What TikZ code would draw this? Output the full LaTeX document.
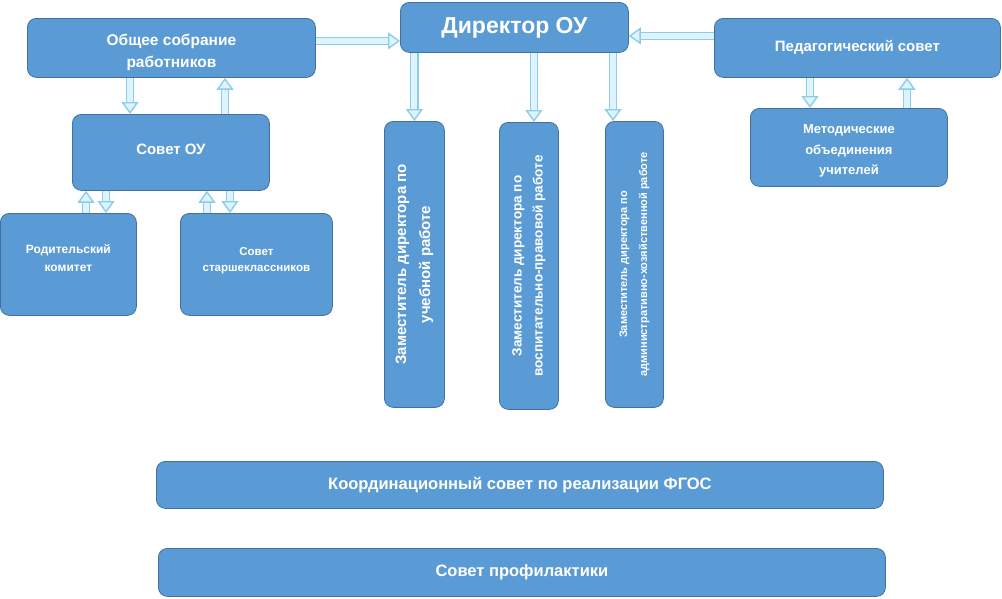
\documentclass[tikz,border=0pt]{standalone}
\usepackage{fontspec}
\setmainfont{Liberation Sans}
\usetikzlibrary{arrows.meta}
\definecolor{kasten}{RGB}{91,155,213}
\definecolor{rand}{RGB}{65,113,156}
\definecolor{pfeil}{RGB}{140,205,232}
\definecolor{pfeilhell}{RGB}{222,243,251}
\newcommand{\schrift}[2]{\bfseries\fontsize{#1}{#2}\selectfont}
\begin{document}
\begin{tikzpicture}[x=1pt,y=-1pt,
		box/.style={draw=rand,line width=0.8,fill=kasten,rounded corners=9,anchor=north west,inner sep=0,text=white,align=center},
		flow/.style={draw=pfeil,line width=1.4,double=pfeilhell,double distance=6,-{Triangle[width=17,length=12,fill=pfeilhell]}}]
	\useasboundingbox[fill=white] (0,0) rectangle (1002,598);
	% obere Reihe
	\node[box,minimum width=288,minimum height=59,font=\schrift{15.5}{22}] (obshee) at (27,18) {\rule{0pt}{20pt}Общее собрание\\работников};
	\node[box,minimum width=228,minimum height=50,font=\schrift{23}{26}] (direktor) at (400,2) {Директор ОУ};
	\node[box,minimum width=286,minimum height=59,font=\schrift{15}{18}] (pedsovet) at (714,18) {Педагогический совет};
	% linke Seite
	\node[box,minimum width=197,minimum height=76,font=\schrift{15}{18}] (sovet) at (72,114) {Совет ОУ\rule[-6pt]{0pt}{0pt}};
	\node[box,minimum width=136,minimum height=102,font=\schrift{12}{18}] (roditeli) at (0,213) {Родительский\\комитет\\[-5pt]};
	\node[box,minimum width=152,minimum height=102,font=\schrift{11.5}{16}] (starsh) at (180,213) {Совет\\старшеклассников\\[-6pt]};
	% rechte Seite
	\node[box,minimum width=197,minimum height=78,font=\schrift{13}{20.5}] (metod) at (750,108) {\rule{0pt}{16pt}Методические\\объединения\\учителей};
	% Stellvertreter
	\node[box,minimum width=60,minimum height=286] (zam1) at (384,121) {};
	\node[rotate=90,text=white,align=center,font=\schrift{15}{24}] at (zam1.center) {Заместитель директора по\\учебной работе};
	\node[box,minimum width=59,minimum height=287] (zam2) at (499,122) {};
	\node[rotate=90,text=white,align=center,font=\schrift{13.5}{21}] at (zam2.center) {Заместитель директора по\\воспитательно-правовой работе};
	\node[box,minimum width=58,minimum height=286] (zam3) at (605,121) {};
	\node[rotate=90,text=white,align=center,font=\schrift{11}{20}] at (zam3.center) {Заместитель директора по\\административно-хозяйственной работе};
	% untere Balken
	\node[box,minimum width=727,minimum height=47,font=\schrift{16.5}{20}] (koord) at (156,461) {Координационный совет по реализации ФГОС};
	\node[box,minimum width=727,minimum height=48,font=\schrift{16.5}{20}] (profil) at (158,548) {Совет профилактики};
	% Pfeile
	\draw[flow] ([yshift=7]obshee.east) to ([yshift=7]obshee.east -| direktor.west);
	\draw[flow] ([yshift=12]pedsovet.west) to ([yshift=12]pedsovet.west -| direktor.east);
	\draw[flow] (zam1.north |- direktor.south) to (zam1.north);
	\draw[flow] ([xshift=5]zam2.north |- direktor.south) to ([xshift=5]zam2.north);
	\draw[flow] ([xshift=8]zam3.north west |- direktor.south) to ([xshift=8]zam3.north west);
	\draw[flow] ([xshift=103]obshee.south west) to ([xshift=58]sovet.north west);
	\draw[flow] ([xshift=153]sovet.north west) to ([xshift=198]obshee.south west);
	\draw[flow] ([xshift=86]roditeli.north west) to ([xshift=14]sovet.south west);
	\draw[flow] ([xshift=34]sovet.south west) to ([xshift=106]roditeli.north west);
	\draw[flow] ([xshift=27]starsh.north west) to ([xshift=135]sovet.south west);
	\draw[flow] ([xshift=158]sovet.south west) to ([xshift=50]starsh.north west);
	\draw[flow] ([xshift=96]pedsovet.south west) to ([xshift=60]metod.north west);
	\draw[flow] ([xshift=157]metod.north west) to ([xshift=193]pedsovet.south west);
\end{tikzpicture}
\end{document}
